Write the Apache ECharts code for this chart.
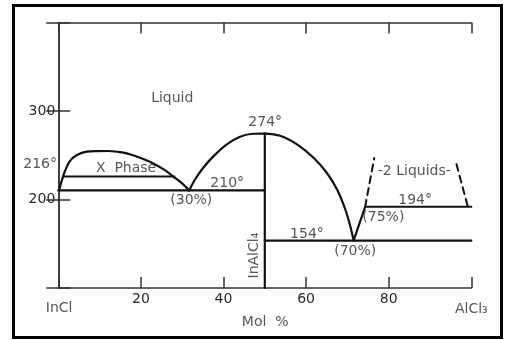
<!DOCTYPE html>
<html>
<head>
<meta charset="utf-8">
<script src="https://cdn.jsdelivr.net/npm/echarts@6/dist/echarts.min.js"></script>
<style>html,body{margin:0;padding:0;background:#fff}#c{width:506px;height:340px}</style>
</head>
<body>
<div id="c"></div>
<script>
// ---- data (x: mol % AlCl3, y: temperature °C) ----
const xTicks = [20, 40, 60, 80];
const yTicks = [200, 300];
const xPhaseDome = [[0.2,210.5],[0.5,216],[0.8,220.7],[1.6,232],[2.8,243.4],[4.5,250.2],[6.9,254.1],[9.3,254.7],[12,254.8],[14.5,253.8],[16.6,252.1],[19.8,247.2],[23.0,240.8],[25.8,233.2],[27.9,225.7],[30.1,217.7],[31.7,210.2]];
const liquidusLeft = [[31.7,210.2],[33.1,222.6],[35.1,235.9],[37.6,249],[40.8,262.3],[44.0,271],[47.2,274.3],[50,274.5]];
const liquidusRight = [[50,274.5],[53.7,272],[57.8,262.3],[61.8,247.2],[65.0,230.2],[67.5,211.3],[69.5,188.7],[70.7,169.8],[71.5,153.8]];
const eutectic210 = [[0,210.2],[50,210.2]];
const xPhaseLine = [[1.2,226],[28.1,226]];
const compoundLine = [[50,274.5],[50,100]];
const eutectic154 = [[50,153.5],[100,153.5]];
const vBranch = [[71.5,153.5],[74.3,191.8]];
const monotectic194 = [[74.3,191.8],[100,191.8]];
const dashLeft = [[74.3,191.8],[76.5,247]];
const dashRight = [[96.4,240],[99.1,193]];
const arrow216 = [[-4.3,231],[-3.4,224],[-2,218],[-0.4,213.5]];
const annotations = [
  [27.6, 314.3, 'Liquid', 0],
  [50.1, 286.8, '274°', 0],
  [-4.4, 239.6, '216°', 0],
  [16.4, 235.1, 'X  Phase', 0],
  [40.9, 218.1, '210°', 0],
  [32.2, 198.9, '(30%)', 0],
  [60.2, 160.4, '154°', 0],
  [71.9, 141.1, '(70%)', 0],
  [78.7, 179.6, '(75%)', 0],
  [86.4, 198.9, '194°', 0],
  [86.2, 232.0, '-2 Liquids-', 0],
  [47.4, 136.6, 'InAlCl₄', 90],
  [0.2, 76.6, 'InCl', 0],
  [100, 76.0, 'AlCl₃', 0],
  [50.1, 60.8, 'Mol  %', 0]
];

const FONT = 'DejaVu Sans';
const TXT = '#2a2a2a';
const INK = '#111';
const chart = echarts.init(document.getElementById('c'), null, {renderer: 'canvas'});

function lineSeries(data, opts) {
  opts = opts || {};
  return {
    type: 'line', data: data, symbol: 'none', clip: false, silent: true,
    smooth: opts.smooth || false,
    lineStyle: {color: INK, width: opts.width || 2.2, type: opts.type || 'solid', cap: 'round'},
    z: 3
  };
}

const axisLineStyle = {color: '#333', width: 1.5};

chart.setOption({
  animation: false,
  backgroundColor: '#fff',
  grid: {left: 58.3, top: 22.5, width: 413, height: 265.5},
  xAxis: [
    {type: 'value', min: 0, max: 100, interval: 20, position: 'bottom',
     axisLine: {show: true, lineStyle: axisLineStyle},
     axisTick: {show: true, inside: true, length: 11, lineStyle: axisLineStyle},
     splitLine: {show: false},
     axisLabel: {margin: 4, fontFamily: FONT, fontSize: 14, color: TXT,
       formatter: v => xTicks.indexOf(v) >= 0 ? String(v) : ''}},
    {type: 'value', min: 0, max: 100, interval: 20, position: 'top',
     axisLine: {show: true, lineStyle: axisLineStyle},
     axisTick: {show: true, inside: true, length: 11, lineStyle: axisLineStyle},
     splitLine: {show: false}, axisLabel: {show: false}}
  ],
  yAxis: [
    {type: 'value', min: 100, max: 400, interval: 100, position: 'left',
     axisLine: {show: true, lineStyle: axisLineStyle},
     axisTick: {show: true, inside: true, length: 12, lineStyle: axisLineStyle},
     splitLine: {show: false},
     axisLabel: {margin: 3, fontFamily: FONT, fontSize: 14, color: TXT,
       formatter: v => yTicks.indexOf(v) >= 0 ? String(v) : ''}},
    {type: 'value', min: 100, max: 400, interval: 100, position: 'right',
     axisLine: {show: true, lineStyle: axisLineStyle},
     axisTick: {show: true, inside: true, length: 12, lineStyle: axisLineStyle},
     splitLine: {show: false}, axisLabel: {show: false}}
  ],
  graphic: [{
    type: 'rect', shape: {x: 13.5, y: 5.5, width: 488, height: 332},
    style: {fill: 'none', stroke: '#000', lineWidth: 3}, z: 100
  }],
  series: [
    lineSeries(xPhaseDome, {smooth: 0.35}),
    lineSeries(liquidusLeft, {smooth: 0.35}),
    lineSeries(liquidusRight, {smooth: 0.35}),
    lineSeries(eutectic210),
    lineSeries(xPhaseLine),
    lineSeries(compoundLine),
    lineSeries(eutectic154),
    lineSeries(vBranch),
    lineSeries(monotectic194),
    lineSeries(dashLeft, {type: [7, 5], width: 2}),
    lineSeries(dashRight, {type: [7, 5], width: 2}),
    lineSeries(arrow216, {smooth: 0.5, width: 1}),
    {
      type: 'scatter', clip: false, silent: true, symbolSize: 0,
      data: annotations.map(a => ({
        value: [a[0], a[1]],
        label: {rotate: a[3]}
      })),
      itemStyle: {color: 'rgba(0,0,0,0)'},
      label: {
        show: true, position: [0, 0], align: 'center', verticalAlign: 'middle',
        fontFamily: FONT, fontSize: 14, color: TXT,
        formatter: p => annotations[p.dataIndex][2]
      },
      z: 5
    }
  ]
});
</script>
</body>
</html>
